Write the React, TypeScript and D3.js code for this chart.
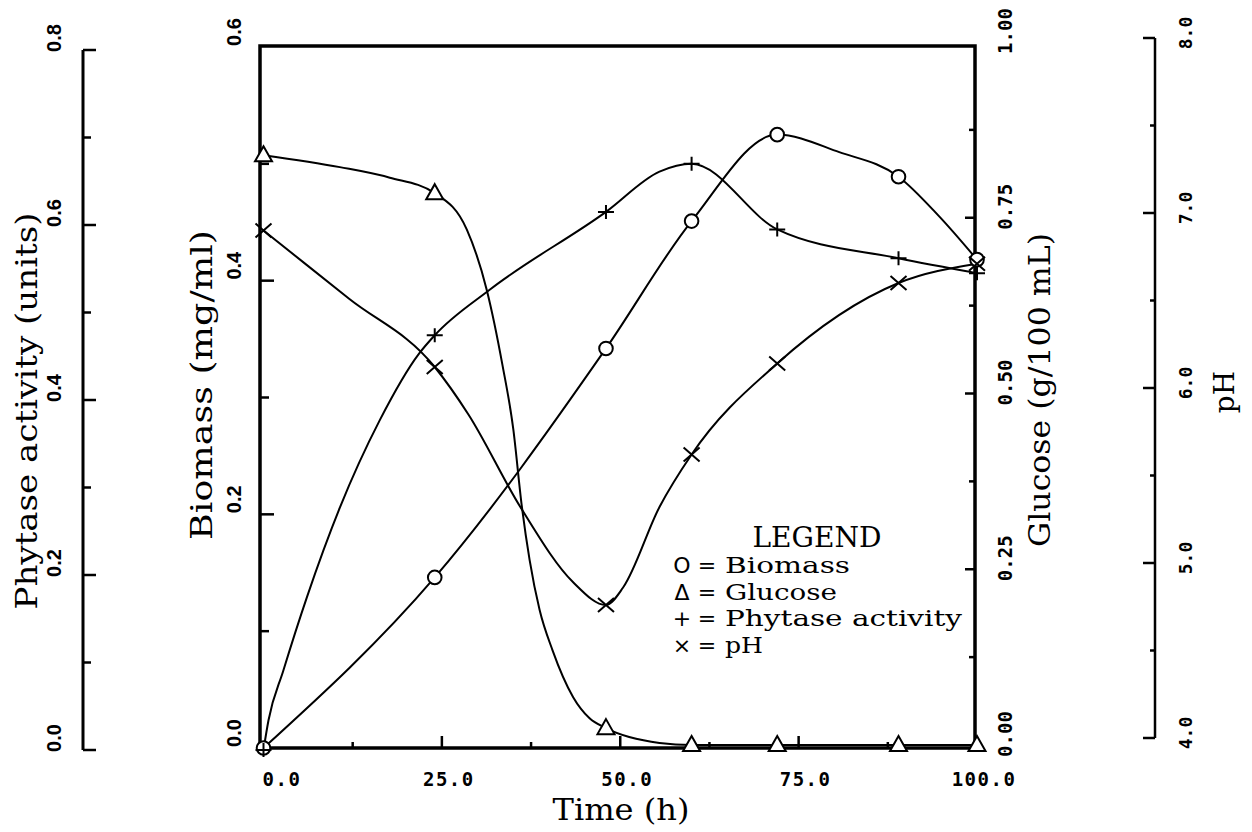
import React from "react";
import * as d3 from "d3";

// ---- measured data (time in h) ----
const times = [0, 24, 48, 60, 72, 89, 100];
const biomass = [0, 0.146, 0.342, 0.451, 0.525, 0.489, 0.418];
const glucose = [0.839, 0.785, 0.024, 0, 0, 0, 0];
const phytase = [0, 0.474, 0.615, 0.67, 0.595, 0.562, 0.545];
const pHvals = [6.9, 6.12, 4.76, 5.62, 6.14, 6.6, 6.71];

// ---- fitted curves: [time, value] ----
const biomassCurve: [number, number][] = [
  [0, 0], [24, 0.146], [48, 0.342], [60, 0.451], [72, 0.525], [80.7, 0.51], [89, 0.489], [94.7, 0.455], [100, 0.418],
];
const glucoseCurve: [number, number][] = [
  [0, 0.839], [10.7, 0.822], [17.7, 0.807], [24, 0.785], [28.5, 0.733], [31.3, 0.647], [33.5, 0.54], [35, 0.45],
  [36.2, 0.34], [37.3, 0.263], [38.7, 0.192], [40.5, 0.135], [43.4, 0.068], [45.7, 0.038], [48, 0.024],
  [55.5, 0.003], [60, 0], [100, 0],
];
const phytaseCurve: [number, number][] = [
  [0, 0], [0.7, 0.034], [2.75, 0.09], [6.1, 0.175], [10.7, 0.277], [16.3, 0.377], [21.8, 0.453], [24, 0.474],
  [31.7, 0.526], [48, 0.615], [55.5, 0.661], [60, 0.67], [72, 0.595], [89, 0.562], [100, 0.545],
];
const pHCurve: [number, number][] = [
  [0, 6.9], [12, 6.51], [24, 6.12], [28.7, 5.85], [36, 5.32], [43.4, 4.89], [48, 4.76], [50.4, 4.86],
  [55.5, 5.32], [60, 5.62], [72, 6.14], [89, 6.6], [100, 6.71],
];

// ---- tick labels ----
const timeTicks = [0, 25, 50, 75, 100];
const timeMinor = [12.5, 25, 37.5, 50, 62.5, 75, 87.5];
const biomassTicks = [0, 0.2, 0.4, 0.6];
const biomassMinor = [0.1, 0.2, 0.3, 0.4, 0.5];
const glucoseTicks = [0, 0.25, 0.5, 0.75, 1.0];
const glucoseMinor = [0.125, 0.25, 0.375, 0.5, 0.625, 0.75, 0.875];
const phytaseTicks = [0, 0.2, 0.4, 0.6, 0.8];
const phytaseMinor = [0, 0.1, 0.2, 0.3, 0.4, 0.5, 0.6, 0.7, 0.8];
const pHTicks = [4, 5, 6, 7, 8];
const pHMinor = [4, 4.5, 5, 5.5, 6, 6.5, 7, 7.5, 8];

const legendSymbols = ["O", "\u0394", "+", "\u00D7"];
const legendLabels = ["Biomass", "Glucose", "Phytase activity", "pH"];
const legendLengths = [125, 112, 237, 38];

const SERIF = "'DejaVu Serif', serif";
const MONO = "'DejaVu Sans Mono', monospace";
const SANSB = "'Liberation Sans', Arial, sans-serif";

const near = (a: number, b: number) => Math.abs(a - b) < 1e-6;

function Rot({ x, y, children, ...rest }: any) {
  return (
    <text transform={`translate(${x},${y}) rotate(-90)`} textAnchor="middle" dominantBaseline="central" {...rest}>
      {children}
    </text>
  );
}

export default function App() {
  const W = 1252, H = 832;
  const box = { left: 260, right: 975, top: 46, bottom: 748 };

  const x = d3.scaleLinear().domain([0, 100]).range([263.5, 977]);
  const yBio = d3.scaleLinear().domain([0, 0.6]).range([748, 47]);
  const yGlu = d3.scaleLinear().domain([0, 1]).range([745, 42]);
  const yPhy = d3.scaleLinear().domain([0, 0.8]).range([750, 50]);
  const yPH = d3.scaleLinear().domain([4, 8]).range([738, 38]);

  const mkLine = (ys: d3.ScaleLinear<number, number>) =>
    d3.line<[number, number]>().x((d) => x(d[0])).y((d) => ys(d[1])).curve(d3.curveMonotoneX);

  const phyAxisX = 83;
  const pHAxisX = 1155;

  const lw = 2;
  const tri = "M0,-9L8.5,6L-8.5,6Z";
  const plus = "M-8,0H8M0,-7V7";
  const cross = "M-8,-7L8,7M-8,7L8,-7";

  return (
    <svg width={W} height={H} style={{ position: "absolute", left: 0, top: 0, background: "#fff" }}>
      <rect x={0} y={0} width={W} height={H} fill="#fff" />

      {/* ---------- Phytase axis (far left) ---------- */}
      <line x1={phyAxisX} x2={phyAxisX} y1={yPhy(0.8)} y2={yPhy(0)} stroke="#000" strokeWidth={3} />
      {phytaseMinor.map((v) => {
        const major = phytaseTicks.some((t) => near(t, v));
        return (
          <line key={"pm" + v} x1={phyAxisX} x2={phyAxisX + (major ? 13 : 8)} y1={yPhy(v)} y2={yPhy(v)} stroke="#000" strokeWidth={2.5} />
        );
      })}
      {phytaseTicks.map((v) => (
        <Rot key={"pl" + v} x={54} y={yPhy(v) - 12} fontFamily={SANSB} fontWeight="bold" fontSize={20}>
          {d3.format(".1f")(v)}
        </Rot>
      ))}
      <Rot x={27} y={411} fontFamily={SERIF} fontSize={29} textLength={397} lengthAdjust="spacingAndGlyphs">
        Phytase activity (units)
      </Rot>

      {/* ---------- Biomass axis (box left) ---------- */}
      {biomassMinor.map((v) => {
        const major = biomassTicks.some((t) => near(t, v));
        return (
          <line key={"bm" + v} x1={box.left} x2={box.left + (major ? 14 : 9)} y1={yBio(v)} y2={yBio(v)} stroke="#000" strokeWidth={2.5} />
        );
      })}
      {biomassTicks.map((v) => (
        <Rot key={"bl" + v} x={234} y={yBio(v) - 15} fontFamily={SANSB} fontWeight="bold" fontSize={20}>
          {d3.format(".1f")(v)}
        </Rot>
      ))}
      <Rot x={202} y={385} fontFamily={SERIF} fontSize={29} textLength={310} lengthAdjust="spacingAndGlyphs">
        Biomass (mg/ml)
      </Rot>

      {/* ---------- Time axis ---------- */}
      {timeMinor.map((t) => {
        const major = timeTicks.some((v) => near(v, t));
        return (
          <line key={"tm" + t} x1={x(t)} x2={x(t)} y1={box.bottom} y2={box.bottom - (major ? 12 : 6)} stroke="#000" strokeWidth={2.5} />
        );
      })}
      {timeTicks.map((t) => (
        <text key={"tl" + t} x={Math.max(x(t) + 7, box.left + 22)} y={779} textAnchor="middle" dominantBaseline="central" fontFamily={MONO}
          fontWeight="bold" fontSize={19} letterSpacing={1.5}>
          {d3.format(".1f")(t)}
        </text>
      ))}
      <text x={621} y={820} textAnchor="middle" fontFamily={SERIF} fontSize={30} textLength={137} lengthAdjust="spacingAndGlyphs">
        Time (h)
      </text>

      {/* ---------- Glucose axis (box right) ---------- */}
      {glucoseMinor.map((v) => {
        const major = glucoseTicks.some((t) => near(t, v));
        return (
          <line key={"gm" + v} x1={box.right} x2={box.right - (major ? 10 : 6)} y1={yGlu(v)} y2={yGlu(v)} stroke="#000" strokeWidth={2.5} />
        );
      })}
      {glucoseTicks.map((v) => (
        <Rot key={"gl" + v} x={1005} y={yGlu(v) - 11} fontFamily={MONO} fontWeight="bold" fontSize={19}>
          {d3.format(".2f")(v)}
        </Rot>
      ))}
      <Rot x={1040} y={390} fontFamily={SERIF} fontSize={29} textLength={314} lengthAdjust="spacingAndGlyphs">
        Glucose (g/100 mL)
      </Rot>

      {/* ---------- pH axis (far right) ---------- */}
      <line x1={pHAxisX} x2={pHAxisX} y1={yPH(8)} y2={yPH(4)} stroke="#000" strokeWidth={2.5} />
      {pHMinor.map((v) => {
        const major = pHTicks.some((t) => near(t, v));
        return (
          <line key={"hm" + v} x1={pHAxisX} x2={pHAxisX - (major ? 12 : 5)} y1={yPH(v)} y2={yPH(v)} stroke="#000" strokeWidth={2.5} />
        );
      })}
      {pHTicks.map((v) => (
        <Rot key={"hl" + v} x={1185} y={yPH(v) - 5} fontFamily={MONO} fontWeight="bold" fontSize={18}>
          {d3.format(".1f")(v)}
        </Rot>
      ))}
      <Rot x={1224} y={392} fontFamily={SERIF} fontSize={28}>
        pH
      </Rot>

      {/* ---------- curves ---------- */}
      <g fill="none" stroke="#000" strokeWidth={lw} strokeLinejoin="round">
        <path d={mkLine(yBio)(biomassCurve) || ""} />
        <path d={mkLine(yGlu)(glucoseCurve) || ""} />
        <path d={mkLine(yPhy)(phytaseCurve) || ""} />
        <path d={mkLine(yPH)(pHCurve) || ""} />
      </g>

      {/* ---------- plot frame ---------- */}
      <rect x={box.left} y={box.top} width={box.right - box.left} height={box.bottom - box.top} fill="none" stroke="#000" strokeWidth={3.5} />

      {/* ---------- markers ---------- */}
      <g stroke="#000" strokeWidth={lw}>
        {times.map((t, i) => (
          <path key={"g" + i} d={tri} transform={`translate(${x(t)},${yGlu(glucose[i])})`} fill="#fff" />
        ))}
        {times.map((t, i) => (
          <circle key={"b" + i} cx={x(t)} cy={yBio(biomass[i])} r={6.8} fill="#fff" />
        ))}
        {times.map((t, i) => (
          <path key={"p" + i} d={plus} transform={`translate(${x(t)},${yPhy(phytase[i])})`} fill="none" />
        ))}
        {times.map((t, i) => (
          <path key={"h" + i} d={cross} transform={`translate(${x(t)},${yPH(pHvals[i])})`} fill="none" />
        ))}
      </g>

      {/* ---------- legend ---------- */}
      <text x={817} y={547} textAnchor="middle" fontFamily={SERIF} fontSize={28} textLength={129} lengthAdjust="spacingAndGlyphs">
        LEGEND
      </text>
      {legendLabels.map((lab, i) => {
        const by = 573 + i * 26.5;
        return (
          <g key={"lg" + i}>
            <text x={682} y={by} textAnchor="middle" fontFamily="'DejaVu Sans', sans-serif" fontSize={22}>
              {legendSymbols[i]}
            </text>
            <text x={707} y={by} textAnchor="middle" fontFamily={SERIF} fontSize={22}>
              =
            </text>
            <text x={725} y={by} fontFamily={SERIF} fontSize={22} textLength={legendLengths[i]} lengthAdjust="spacingAndGlyphs">
              {lab}
            </text>
          </g>
        );
      })}
    </svg>
  );
}
